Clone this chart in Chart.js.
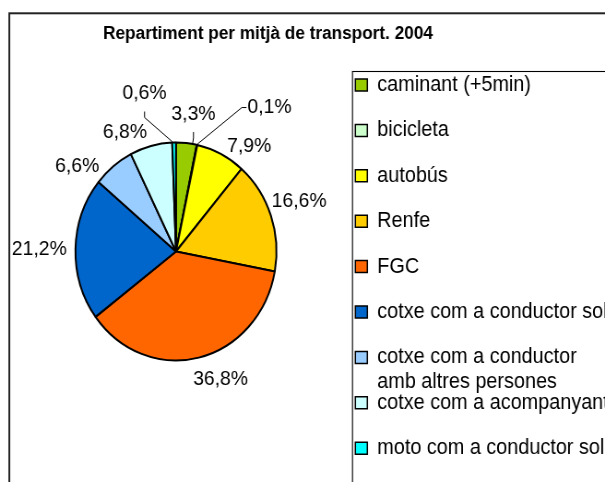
<!DOCTYPE html>
<html><head><meta charset="utf-8">
<script src="https://cdn.jsdelivr.net/npm/chart.js@4"></script>
<style>
html,body{margin:0;padding:0;background:#fff;overflow:hidden;width:605px;height:482px;}
#wrap{position:relative;width:605px;height:560px;}
#c{display:block;width:605px;height:560px;}
</style></head><body>
<div id="wrap"><canvas id="c" width="656" height="560" style="width:605px;height:560px"></canvas></div>
<script>
// ---- data ----
const categories = [
  'caminant (+5min)',
  'bicicleta',
  'autobús',
  'Renfe',
  'FGC',
  'cotxe com a conductor sol',
  ['cotxe com a conductor', 'amb altres persones'],
  'cotxe com a acompanyant',
  'moto com a conductor sol'
];
const shares = [3.3, 0.1, 7.9, 16.6, 36.8, 21.2, 6.6, 6.8, 0.6];
const sliceColors = ['#99CC00', '#CCFFCC', '#FFFF00', '#FFCC00', '#FF6600', '#0066CC', '#99CCFF', '#CCFFFF', '#00FFFF'];
const chartTitle = 'Repartiment per mitjà de transport. 2004';

// ---- style ----
// The canvas is drawn 656px wide and shown 605px wide, as the original picture is horizontally condensed.
const FONT = "'Liberation Sans', Arial, Helvetica, sans-serif";

const framePlugin = {
  id: 'frame',
  beforeDraw(chart) {
    const ctx = chart.ctx;
    const lg = chart.legend;
    // let the legend labels run on to the canvas edge, as in the original (cut by the picture border)
    lg.right = chart.width;
    lg.width = lg.right - lg.left;
    ctx.save();
    ctx.fillStyle = '#fff';
    ctx.fillRect(0, 0, chart.width, chart.height);
    ctx.strokeStyle = '#222';
    ctx.lineWidth = 2;
    ctx.strokeRect(10.1, 13.3, chart.width + 50, chart.height + 50);
    ctx.strokeStyle = '#000';
    ctx.lineWidth = 1.1;
    ctx.strokeRect(lg.left + 20.8, 71.5, chart.width, chart.height);
    ctx.restore();
  }
};

const sliceLabelPlugin = {
  id: 'sliceLabels',
  afterDraw(chart, args, opts) {
    const ctx = chart.ctx;
    const meta = chart.getDatasetMeta(0);
    const ds = chart.data.datasets[0];
    ctx.save();
    ctx.font = opts.font;
    ctx.fillStyle = '#000';
    ctx.strokeStyle = '#000';
    ctx.lineWidth = 1;
    ctx.textAlign = 'center';
    ctx.textBaseline = 'middle';
    meta.data.forEach((arc, i) => {
      const p = arc.getProps(['x', 'y', 'startAngle', 'endAngle', 'outerRadius'], true);
      const R = p.outerRadius + 1;
      const pt = a => ({x: p.x + R * Math.cos(a), y: p.y + R * Math.sin(a)});
      const mid = (p.startAngle + p.endAngle) / 2;
      const P = pt(mid);
      const text = ds.data[i].toFixed(1).replace('.', ',') + '%';
      const w = ctx.measureText(text).width, h = 16;
      const c = Math.cos(mid), s = Math.sin(mid);
      const n = opts.nudges[i] || [0, 0];
      const L = {x: P.x + c * (w / 2 + 6) + n[0], y: P.y + s * (h / 2 + 6) + n[1]};
      ctx.fillText(text, L.x, L.y);
      if (ds.data[i] < opts.leaderBelow) {
        const dx = P.x - L.x, dy = P.y - L.y;
        let S, T;
        if (Math.abs(dy) >= Math.abs(dx)) {
          const sg = Math.sign(dy);
          S = {x: L.x, y: L.y + sg * (h / 2 + 10)};
          T = {x: S.x, y: S.y + sg * 6};
        } else {
          const sg = Math.sign(dx);
          S = {x: L.x + sg * (w / 2 + 1), y: L.y};
          T = {x: S.x + sg * 5, y: S.y};
        }
        let a = Math.atan2(T.y - p.y, T.x - p.x);
        if (a < -Math.PI / 2) a += 2 * Math.PI;
        a = Math.min(Math.max(a, p.startAngle), p.endAngle);
        const E = pt(a);
        ctx.beginPath();
        ctx.moveTo(S.x, S.y);
        ctx.lineTo(T.x, T.y);
        ctx.lineTo(E.x, E.y);
        ctx.stroke();
      }
    });
    ctx.restore();
  }
};

const legendWrapPlugin = {
  id: 'legendWrap',
  afterDraw(chart) {
    const lg = chart.legend;
    const lo = lg.options.labels;
    const font = Chart.helpers.toFont(lo.font);
    const itemHeight = Math.max(font.size, lo.boxHeight);
    const ctx = chart.ctx;
    ctx.save();
    ctx.font = font.string;
    ctx.fillStyle = lo.color;
    ctx.textAlign = 'left';
    ctx.textBaseline = 'middle';
    chart.data.labels.forEach((lab, i) => {
      if (!Array.isArray(lab)) return;
      const hb = lg.legendHitBoxes[i];
      const x = hb.left + lo.boxWidth + font.size / 2;
      lab.slice(1).forEach((line, k) => {
        ctx.fillText(line, x, hb.top + itemHeight / 2 + (k + 1) * font.lineHeight);
      });
    });
    ctx.restore();
  }
};

new Chart(document.getElementById('c'), {
  type: 'pie',
  data: {
    labels: categories,
    datasets: [{
      data: shares,
      backgroundColor: sliceColors,
      borderColor: '#000',
      borderWidth: 2,
      radius: 109
    }]
  },
  options: {
    responsive: false,
    devicePixelRatio: 1,
    animation: false,
    events: [],
    layout: {padding: {left: 20.2, right: 95, top: 0, bottom: 0}},
    plugins: {
      tooltip: {enabled: false},
      title: {
        display: true, text: chartTitle, color: '#000',
        font: {family: FONT, size: 18.66, weight: 'bold', lineHeight: 1.2},
        padding: {top: 22.8, bottom: 4.81}
      },
      subtitle: {
        display: true, text: '', position: 'bottom', fullSize: false,
        font: {size: 10, lineHeight: 1.2},
        padding: {top: 95, bottom: 0}
      },
      legend: {
        position: 'right', align: 'start', fullSize: true, maxWidth: 199.6,
        title: {display: true, text: '', font: {size: 10, lineHeight: 1.2}, padding: {top: 38.35, bottom: 0}},
        labels: {
          font: {family: FONT, size: 21.5, lineHeight: 1.1628},
          color: '#000',
          boxWidth: 13, boxHeight: 12, padding: 23.9,
          generateLabels(chart) {
            const items = Chart.overrides.pie.plugins.legend.labels.generateLabels(chart);
            return items.map(it => Object.assign({}, it, {
              text: Array.isArray(it.text) ? it.text[0] : it.text,
              lineWidth: 1.5
            }));
          }
        }
      },
      sliceLabels: {
        font: "21px 'Liberation Sans', Arial, Helvetica, sans-serif",
        leaderBelow: 4,
        nudges: [[4.5, -14.2], [72.1, -22.7], [17.0, 5.5], [-4.0, -9.6], [15.2, 6.6], [-2.5, 0.6], [-19.9, 11.45], [-20.5, 1.1], [-31.4, -34]]
      }
    }
  },
  plugins: [framePlugin, sliceLabelPlugin, legendWrapPlugin]
});
</script>
</body></html>
